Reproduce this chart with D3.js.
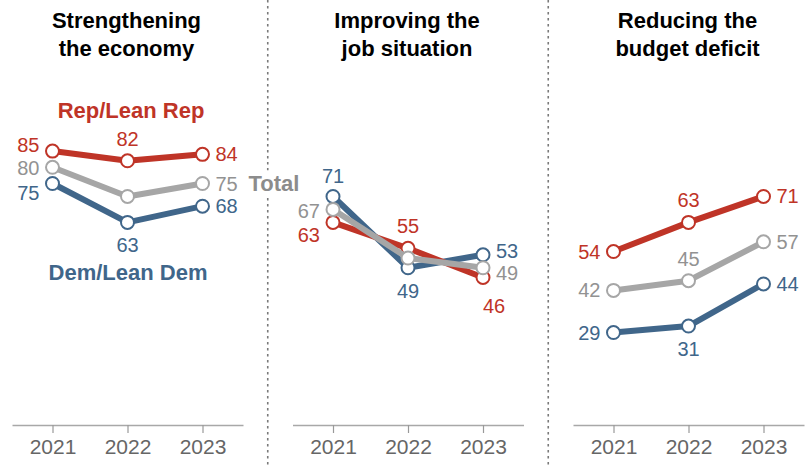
<!DOCTYPE html>
<html>
<head>
<meta charset="utf-8">
<script src="https://cdn.jsdelivr.net/npm/d3@7"></script>
<style>
  body { margin: 0; background: #fff; }
  svg { display: block; font-family: "Liberation Sans", Arial, sans-serif; }
</style>
</head>
<body>
<div id="chart"></div>
<script>
// data
const years = ["2021", "2022", "2023"];
const topics = [["Strengthening", "the economy"], ["Improving the", "job situation"], ["Reducing the", "budget deficit"]];
const repValues = [[85, 82, 84], [63, 55, 46], [54, 63, 71]];
const totalValues = [[80, 71, 75], [67, 52, 49], [42, 45, 57]];
const demValues = [[75, 63, 68], [71, 49, 53], [29, 31, 44]];
// which labels to show, and where (dx, dy, anchor); null = no label
const repPos = [
  [[-13, 1, "end"], [0, -15, "middle"], [13, 7, "start"]],
  [[-13, 20, "end"], [0, -15, "middle"], [0, 36, "start"]],
  [[-13, 7, "end"], [0, -15, "middle"], [13, 7, "start"]]
];
const totalPos = [
  [[-13, 8, "end"], null, [13, 7, "start"]],
  [[-13, 9, "end"], null, [13, 12, "start"]],
  [[-13, 7, "end"], [0, -15, "middle"], [13, 7, "start"]]
];
const demPos = [
  [[-13, 16, "end"], [0, 30, "middle"], [13, 7, "start"]],
  [[0, -13, "middle"], [0, 30, "middle"], [13, 3, "start"]],
  [[-13, 7, "end"], [0, 30, "middle"], [13, 7, "start"]]
];

const width = 805, height = 466;
const panelW = 231, panelStep = 280.5, panelX0 = 12;
const colors = { rep: "#bf3427", total: "#a6a6a6", dem: "#40668a" };
const textColors = { rep: "#bf3427", total: "#929292", dem: "#40668a" };

const svg = d3.select("#chart").append("svg")
  .attr("width", width).attr("height", height);

const y = d3.scaleLinear().domain([0, 100]).range([426.5, 102.5]);

// separators
[1, 2].forEach(i => {
  const sx = panelX0 + i * panelStep - 24.75;
  svg.append("line")
    .attr("x1", sx).attr("x2", sx).attr("y1", 0).attr("y2", height)
    .attr("stroke", "#7a7a7a").attr("stroke-width", 1.6)
    .attr("stroke-dasharray", "2.5,3.5");
});

topics.forEach((title, i) => {
  const x0 = panelX0 + i * panelStep;
  const x = d3.scalePoint().domain(years).range([x0, x0 + panelW]).padding(0.54);
  const g = svg.append("g");

  // title
  const t = g.append("text")
    .attr("text-anchor", "middle")
    .attr("font-weight", "bold").attr("font-size", 22).attr("fill", "#000");
  t.append("tspan").attr("x", x0 + panelW / 2 - 1).attr("y", 28).text(title[0]);
  t.append("tspan").attr("x", x0 + panelW / 2 - 1).attr("y", 56).text(title[1]);

  // axis
  const ax = g.append("g")
    .attr("transform", `translate(0,${y(0) - 1.5})`)
    .call(d3.axisBottom(x).tickSize(8).tickSizeOuter(0).tickPadding(6));
  ax.select(".domain").attr("stroke", "#a8a8a8").attr("stroke-width", 1.5);
  ax.selectAll(".tick line").attr("stroke", "#999").attr("stroke-width", 1.2);
  ax.selectAll(".tick text").attr("font-size", 21).attr("fill", "#666")
    .attr("font-family", "'Liberation Sans', Arial, sans-serif");

  const series = [
    { key: "dem", vals: demValues[i], pos: demPos[i] },
    { key: "rep", vals: repValues[i], pos: repPos[i] },
    { key: "total", vals: totalValues[i], pos: totalPos[i] }
  ];

  const line = d3.line().x((d, j) => x(years[j])).y(d => y(d));

  series.forEach(s => {
    g.append("path")
      .attr("d", line(s.vals))
      .attr("fill", "none").attr("stroke", colors[s.key])
      .attr("stroke-width", 6).attr("stroke-linejoin", "round");
    g.selectAll(null).data(s.vals).join("circle")
      .attr("cx", (d, j) => x(years[j])).attr("cy", d => y(d))
      .attr("r", 6.5).attr("fill", "#fff")
      .attr("stroke", colors[s.key]).attr("stroke-width", 2);
  });

  series.forEach(s => {
    s.vals.forEach((v, j) => {
      const p = s.pos[j];
      if (!p) return;
      g.append("text")
        .attr("x", x(years[j]) + p[0]).attr("y", y(v) + p[1])
        .attr("text-anchor", p[2]).attr("font-size", 20)
        .attr("fill", textColors[s.key]).text(v);
    });
  });

  if (i === 0) {
    g.append("text").attr("x", 131).attr("y", 118).attr("text-anchor", "middle")
      .attr("font-weight", "bold").attr("font-size", 22).attr("fill", textColors.rep)
      .text("Rep/Lean Rep");
    g.append("text").attr("x", 128).attr("y", 280).attr("text-anchor", "middle")
      .attr("font-weight", "bold").attr("font-size", 22).attr("fill", textColors.dem)
      .text("Dem/Lean Dem");
    const tx = x("2023") + 46;
    const tot = g.append("text").attr("x", tx).attr("y", y(totalValues[0][2]) + 7)
      .attr("font-weight", "bold").attr("font-size", 22).attr("fill", "#8c8c8c")
      .text("Total");
    const bb = tot.node().getBBox();
    g.insert("rect", () => tot.node())
      .attr("x", bb.x - 2).attr("y", bb.y).attr("width", bb.width + 4).attr("height", bb.height)
      .attr("fill", "#fff");
  }
});
</script>
</body>
</html>
